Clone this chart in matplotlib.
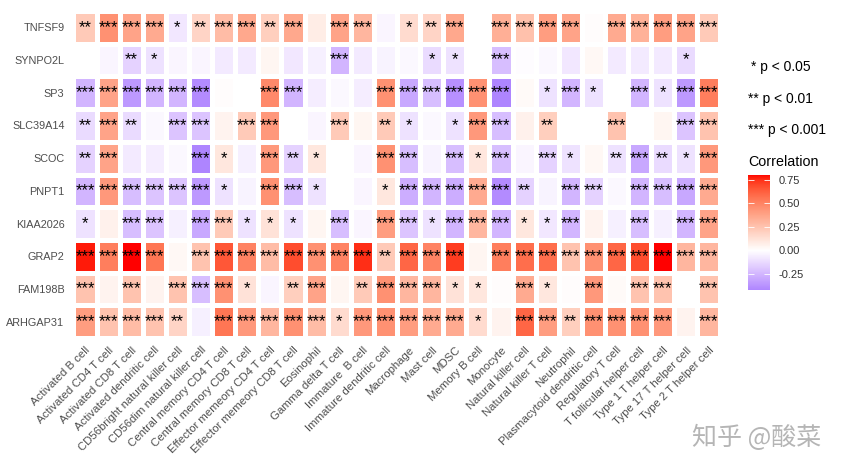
import numpy as np
import matplotlib
matplotlib.use("Agg")
import matplotlib.pyplot as plt
from matplotlib.colors import ListedColormap, Normalize
import matplotlib.transforms as mtransforms

plt.rcParams['font.family'] = ['Liberation Sans', 'DejaVu Sans']

genes = ["TNFSF9", "SYNPO2L", "SP3", "SLC39A14", "SCOC", "PNPT1",
         "KIAA2026", "GRAP2", "FAM198B", "ARHGAP31"]

cells = ["Activated B cell", "Activated CD4 T cell", "Activated CD8 T cell",
         "Activated dendritic cell", "CD56bright natural killer cell",
         "CD56dim natural killer cell", "Central memory CD4 T cell",
         "Central memory CD8 T cell", "Effector memeory CD4 T cell",
         "Effector memeory CD8 T cell", "Eosinophil", "Gamma delta T cell",
         "Immature  B cell", "Immature dendritic cell", "Macrophage",
         "Mast cell", "MDSC", "Memory B cell", "Monocyte",
         "Natural killer cell", "Natural killer T cell", "Neutrophil",
         "Plasmacytoid dendritic cell", "Regulatory T cell",
         "T follicular helper cell", "Type 1 T helper cell",
         "Type 17 T helper cell", "Type 2 T helper cell"]

corr_TNFSF9 = [0.22, 0.45, 0.38, 0.35, -0.08, 0.18, 0.28, 0.36, 0.20, 0.36, 0.08, 0.38, 0.30, -0.03,
               0.15, 0.18, 0.36, 0.00, 0.33, 0.26, 0.40, 0.38, 0.01, 0.35, 0.32, 0.40, 0.38, 0.22]
corr_SYNPO2L = [0.00, -0.03, -0.15, -0.10, -0.03, -0.03, -0.07, -0.07, 0.04, -0.08, -0.05, -0.25, -0.07, -0.04,
                -0.02, -0.12, -0.10, 0.00, -0.22, -0.01, -0.02, -0.08, 0.03, -0.07, -0.07, -0.07, -0.12, 0.00]
corr_SP3 = [-0.25, 0.38, -0.35, -0.25, -0.25, -0.40, 0.01, 0.00, 0.48, -0.25, -0.06, -0.02, -0.06, 0.45,
            -0.30, -0.22, -0.38, 0.45, -0.42, 0.02, -0.10, -0.25, -0.10, 0.00, -0.25, -0.10, -0.35, 0.52]
corr_SLC39A14 = [-0.12, 0.38, -0.12, -0.02, -0.20, -0.20, 0.05, 0.22, 0.42, 0.00, -0.03, 0.22, 0.04, 0.22,
                 -0.10, -0.02, -0.10, 0.42, -0.22, 0.06, 0.20, 0.00, 0.00, 0.25, 0.00, 0.04, -0.20, 0.25]
corr_SCOC = [-0.15, 0.38, -0.07, -0.06, -0.02, -0.42, 0.10, -0.05, 0.42, -0.15, 0.10, 0.00, -0.03, 0.45,
             -0.22, -0.04, -0.22, 0.10, -0.22, -0.03, -0.15, -0.10, 0.03, -0.10, -0.30, -0.12, -0.10, 0.42]
corr_PNPT1 = [-0.25, 0.42, -0.22, -0.20, -0.20, -0.35, -0.10, -0.04, 0.45, -0.22, -0.10, 0.00, -0.03, 0.10,
              -0.28, -0.25, -0.28, 0.35, -0.40, -0.15, -0.04, -0.25, -0.15, -0.02, -0.25, -0.22, -0.30, 0.35]
corr_KIAA2026 = [-0.10, 0.06, -0.22, -0.20, -0.05, -0.30, 0.22, -0.10, 0.12, -0.10, 0.04, -0.22, -0.03, 0.40,
                 -0.20, -0.10, -0.25, 0.30, -0.25, 0.10, -0.08, -0.25, 0.05, -0.05, -0.22, -0.05, -0.25, 0.38]
corr_GRAP2 = [0.78, 0.52, 0.80, 0.55, 0.03, 0.25, 0.65, 0.50, 0.28, 0.68, 0.45, 0.50, 0.75, 0.22,
              0.60, 0.50, 0.72, 0.04, 0.52, 0.58, 0.58, 0.25, 0.45, 0.60, 0.68, 0.80, 0.30, 0.30]
corr_FAM198B = [0.25, 0.05, 0.25, 0.05, 0.25, -0.22, 0.45, 0.12, -0.03, 0.20, 0.38, 0.04, 0.22, 0.45,
                0.30, 0.30, 0.12, 0.10, 0.01, 0.35, 0.10, 0.01, 0.42, 0.02, 0.25, 0.25, 0.00, 0.25]
corr_ARHGAP31 = [0.40, 0.25, 0.28, 0.25, 0.18, -0.05, 0.55, 0.42, 0.30, 0.45, 0.28, 0.15, 0.42, 0.45,
                 0.40, 0.35, 0.35, 0.15, 0.05, 0.60, 0.40, 0.20, 0.45, 0.45, 0.45, 0.42, 0.05, 0.30]

# significance level: 0 none, 1 p<0.05, 2 p<0.01, 3 p<0.001
sig_TNFSF9 = [2, 3, 3, 3, 1, 2, 3, 3, 2, 3, 0, 3, 3, 0, 1, 2, 3, 0, 3, 3, 3, 3, 0, 3, 3, 3, 3, 3]
sig_SYNPO2L = [0, 0, 2, 1, 0, 0, 0, 0, 0, 0, 0, 3, 0, 0, 0, 1, 1, 0, 3, 0, 0, 0, 0, 0, 0, 0, 1, 0]
sig_SP3 = [3, 3, 3, 3, 3, 3, 0, 0, 3, 3, 0, 0, 0, 3, 3, 3, 3, 3, 3, 0, 1, 3, 1, 0, 3, 1, 3, 3]
sig_SLC39A14 = [2, 3, 2, 0, 3, 3, 0, 3, 3, 0, 0, 3, 0, 2, 1, 0, 1, 3, 3, 0, 2, 0, 0, 3, 0, 0, 3, 3]
sig_SCOC = [2, 3, 0, 0, 0, 3, 1, 0, 3, 2, 1, 0, 0, 3, 3, 0, 3, 1, 3, 0, 3, 1, 0, 2, 3, 2, 1, 3]
sig_PNPT1 = [3, 3, 3, 3, 3, 3, 1, 0, 3, 3, 1, 0, 0, 1, 3, 3, 3, 3, 3, 2, 0, 3, 3, 0, 3, 3, 3, 3]
sig_KIAA2026 = [1, 0, 3, 3, 0, 3, 3, 1, 1, 1, 0, 3, 0, 3, 3, 1, 3, 3, 3, 1, 1, 3, 0, 0, 3, 0, 3, 3]
sig_GRAP2 = [3, 3, 3, 3, 0, 3, 3, 3, 3, 3, 3, 3, 3, 2, 3, 3, 3, 0, 3, 3, 3, 3, 3, 3, 3, 3, 3, 3]
sig_FAM198B = [3, 0, 3, 0, 3, 3, 3, 1, 0, 2, 3, 0, 2, 3, 3, 3, 1, 1, 0, 3, 1, 0, 3, 0, 3, 3, 0, 3]
sig_ARHGAP31 = [3, 3, 3, 3, 2, 0, 3, 3, 3, 3, 3, 1, 3, 3, 3, 3, 3, 1, 0, 3, 3, 2, 3, 3, 3, 3, 0, 3]

corr = np.array([corr_TNFSF9, corr_SYNPO2L, corr_SP3, corr_SLC39A14, corr_SCOC,
                 corr_PNPT1, corr_KIAA2026, corr_GRAP2, corr_FAM198B, corr_ARHGAP31])
sig = np.array([sig_TNFSF9, sig_SYNPO2L, sig_SP3, sig_SLC39A14, sig_SCOC,
                sig_PNPT1, sig_KIAA2026, sig_GRAP2, sig_FAM198B, sig_ARHGAP31])

legend_lines = ["* p < 0.05", "** p < 0.01", "*** p < 0.001"]
cbar_ticks = [-0.25, 0.00, 0.25, 0.50, 0.75]

# ---- Lab-space diverging palette (like ggplot scale_fill_gradient2) ----
M = np.array([[0.4124564, 0.3575761, 0.1804375],
              [0.2126729, 0.7151522, 0.0721750],
              [0.0193339, 0.1191920, 0.9503041]])
WP = np.array([0.95047, 1.0, 1.08883])
D = 6 / 29


def to_lab(rgb):
    c = np.asarray(rgb, float)
    lin = np.where(c <= 0.04045, c / 12.92, ((c + 0.055) / 1.055) ** 2.4)
    t = (M @ lin) / WP
    f = np.where(t > D ** 3, np.cbrt(t), t / (3 * D * D) + 4 / 29)
    return np.array([116 * f[1] - 16, 500 * (f[0] - f[1]), 200 * (f[1] - f[2])])


def from_lab(lab):
    L, a, b = lab
    fy = (L + 16) / 116
    fx = fy + a / 500
    fz = fy - b / 200
    f = np.array([fx, fy, fz])
    t = np.where(f > D, f ** 3, 3 * D * D * (f - 4 / 29)) * WP
    lin = np.linalg.solve(M, t)
    lin = np.clip(lin, 0, 1)
    c = np.where(lin <= 0.0031308, 12.92 * lin, 1.055 * lin ** (1 / 2.4) - 0.055)
    return np.clip(c, 0, 1)


lab_low = to_lab([0, 0, 1])
lab_mid = to_lab([1, 1, 1])
lab_high = to_lab([1, 0, 0])

vmin, vmax = corr.min(), corr.max()
m = max(abs(vmin), abs(vmax))
vals = np.linspace(vmin, vmax, 256)
cols = []
for v in vals:
    x = v / (2 * m) + 0.5
    if x < 0.5:
        t = x / 0.5
        lab = lab_low + (lab_mid - lab_low) * t
    else:
        t = (x - 0.5) / 0.5
        lab = lab_mid + (lab_high - lab_mid) * t
    cols.append(from_lab(lab))
cmap = ListedColormap(cols)
norm = Normalize(vmin=vmin, vmax=vmax)

W, H = 845, 471
fig = plt.figure(figsize=(W / 100, H / 100), dpi=100)
ax = fig.add_axes([73.5 / W, 1 - 338.2 / H, 647 / W, 327.4 / H])

nr, nc = corr.shape
mesh = ax.pcolormesh(np.arange(nc + 1), np.arange(nr + 1), corr, cmap=cmap, norm=norm,
                     edgecolors='white', linewidth=2.2)
ax.set_xlim(0, nc)
ax.set_ylim(nr, 0)

for i in range(nr):
    for j in range(nc):
        if sig[i, j] > 0:
            ax.text(j + 0.5, i + 0.5, "*" * int(sig[i, j]), ha='center', va='center',
                    fontsize=12, color='black')

ax.set_xticks(np.arange(nc) + 0.5)
ax.set_xticklabels(cells, rotation=45, ha='right', va='top', rotation_mode='anchor',
                   fontsize=8.2, color='#4D4D4D')
offset = mtransforms.ScaledTranslation(2 / 100, 0, fig.dpi_scale_trans)
for lab in ax.get_xticklabels():
    lab.set_transform(lab.get_transform() + offset)
ax.set_yticks(np.arange(nr) + 0.5)
ax.set_yticklabels(genes, fontsize=7.8, color='#4D4D4D')
ax.tick_params(axis='both', length=0)
ax.tick_params(axis='x', pad=5)
ax.tick_params(axis='y', pad=6.5)
for s in ax.spines.values():
    s.set_visible(False)

# significance legend
legend_x = [751.5, 748.3, 748.3]
for k, line in enumerate(legend_lines):
    fig.text(legend_x[k] / W, 1 - (67 + 31.5 * k) / H, line, ha='left', va='center',
             fontsize=10, color='black')

fig.text(748 / W, 1 - 162.5 / H, "Correlation", ha='left', va='center',
         fontsize=10.3, color='black')

cax = fig.add_axes([748 / W, 1 - 290 / H, 22 / W, 115 / H])
cb = fig.colorbar(mesh, cax=cax, ticks=cbar_ticks)
cb.outline.set_visible(False)
cax.set_yticklabels([f"{t:.2f}" for t in cbar_ticks])
cax.tick_params(axis='y', left=True, right=True, labelleft=False, labelright=True,
                direction='in', length=4.5, width=0.6, color='white',
                labelsize=8, labelcolor='#333333', pad=6)

fig.text(757 / W, 1 - 438 / H, "知乎 @酸菜", ha='center', va='center', fontsize=18,
         color='#b5b5b5', family=['Noto Sans CJK SC', 'DejaVu Sans'])

fig.savefig("out.png", dpi=100, facecolor='white')
